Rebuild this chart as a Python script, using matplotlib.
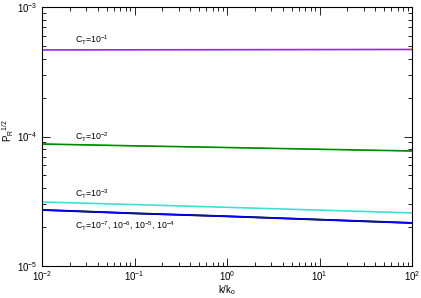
import matplotlib
matplotlib.use("Agg")
import matplotlib.pyplot as plt
import numpy as np

plt.rcParams['font.family'] = ['Liberation Sans', 'DejaVu Sans']
plt.rcParams['mathtext.fontset'] = 'custom'
plt.rcParams['mathtext.rm'] = 'Liberation Sans'
plt.rcParams['mathtext.it'] = 'Liberation Sans'

# data
k = [1e-2, 1e-1, 1e0, 1e1, 1e2]
p_ct1 = [4.66e-4, 4.67e-4, 4.68e-4, 4.69e-4, 4.70e-4]
p_ct2 = [8.75e-5, 8.47e-5, 8.22e-5, 7.97e-5, 7.73e-5]
p_ct3 = [3.12e-5, 2.98e-5, 2.84e-5, 2.70e-5, 2.57e-5]
p_ct4 = [2.71e-5, 2.55e-5, 2.42e-5, 2.28e-5, 2.15e-5]

fig = plt.figure(figsize=(4.21, 2.98), dpi=100)
ax = fig.add_axes([42/421, 32/298, 370/421, 259/298])

ax.plot(k, p_ct1, color='#8a2be2', lw=1.2)
ax.plot(k, p_ct2, color='#00a000', lw=1.2)
ax.plot(k, p_ct2, color='#008000', lw=0.6)
ax.plot(k, p_ct3, color='#40e0d0', lw=1.2)
ax.plot(k, p_ct4, color='black', lw=1.4)
ax.plot(k, p_ct4, color='#0000ff', lw=1.1)

ax.set_xscale('log')
ax.set_yscale('log')
ax.set_xlim(1e-2, 1e2)
ax.set_ylim(1e-5, 1e-3)

ax.tick_params(which='both', direction='in', top=True, right=True, labelsize=7)
ax.tick_params(which='major', length=6, width=0.6)
ax.tick_params(which='minor', length=3, width=0.6)
ax.tick_params(axis='x', pad=2)
for s in ax.spines.values():
    s.set_linewidth(0.8)

ax.set_xlabel(r'k/k$_{\rm o}$', fontsize=7)
ax.set_ylabel(r'P$_{\rm R}$$^{\rm 1/2}$', fontsize=7)
ax.xaxis.set_label_coords(0.5, -0.068)
ax.yaxis.set_label_coords(-0.07, 0.525)

lab_kw = dict(fontsize=6.3)
ax.text(2.3e-2, 5.2e-4, r'C$_{\rm T}$=10$^{-1}$', **lab_kw)
ax.text(2.3e-2, 9.3e-5, r'C$_{\rm T}$=10$^{-2}$', **lab_kw)
ax.text(2.3e-2, 3.4e-5, r'C$_{\rm T}$=10$^{-3}$', **lab_kw)
ax.text(2.3e-2, 1.95e-5, r'C$_{\rm T}$=10$^{-7}$, 10$^{-6}$, 10$^{-5}$, 10$^{-4}$', **lab_kw)

fig.savefig('out.png', dpi=100)
